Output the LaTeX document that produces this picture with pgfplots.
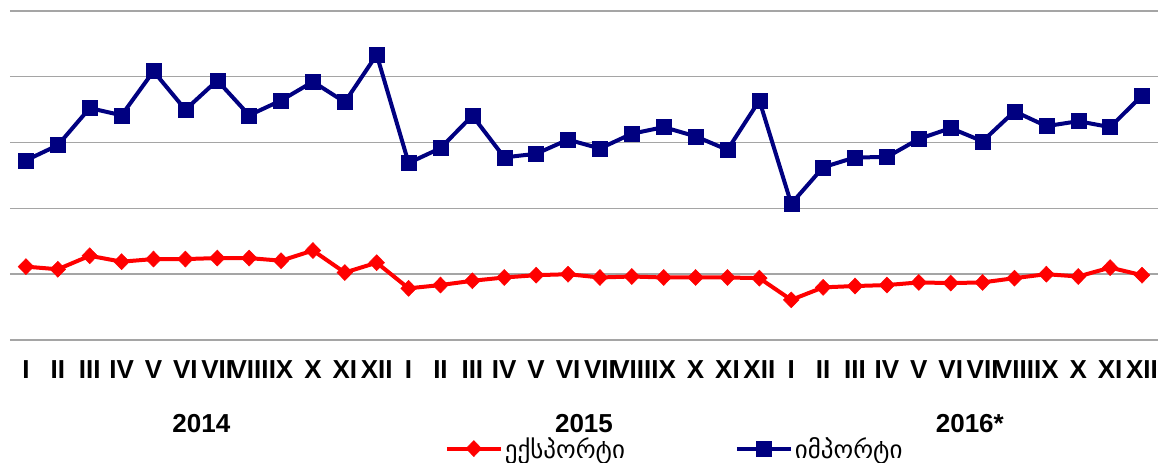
\documentclass[border=0pt]{standalone}
\usepackage{fontspec}
\setmainfont{Liberation Sans}
\newfontfamily\geo{DejaVu Sans}
\usepackage{pgfplots}
\pgfplotsset{compat=1.18}
\definecolor{navy}{RGB}{0,0,128}
\definecolor{myred}{RGB}{255,0,0}
\definecolor{gridgray}{RGB}{165,165,165}
\begin{document}
\begin{tikzpicture}
\useasboundingbox (0,0) rectangle (1168pt,463pt);
\begin{axis}[
  at={(10pt,123pt)}, anchor=south west,
  width=1148pt, height=329pt, scale only axis,
  xmin=-0.5, xmax=35.5, ymin=0, ymax=1000,
  ytick={0,200,400,600,800,1000}, yticklabels={},
  axis line style={draw=none},
  major tick length=0pt,
  ymajorgrids, grid style={gridgray, line width=1.4pt},
  xtick={0,...,35},
  xticklabels={I,II,III,IV,V,VI,VII,VIII,IX,X,XI,XII,I,II,III,IV,V,VI,VII,VIII,IX,X,XI,XII,I,II,III,IV,V,VI,VII,VIII,IX,X,XI,XII},
  xticklabel style={font=\fontsize{26}{26}\selectfont\bfseries, yshift=-17pt},
  clip=false,
  legend columns=2,
  legend style={at={(0.376,-0.330)}, anchor=west, draw=none, fill=none,
    font=\geo\fontsize{25}{25}\selectfont,
    /tikz/every even column/.append style={column sep=108pt}},
  legend image code/.code={\draw[mark repeat=2,mark phase=2,#1] plot coordinates {(0pt,0pt) (27pt,0pt) (54pt,0pt)};},
]
\addplot[myred, line width=4pt, mark=diamond*, mark size=8pt, mark options={xscale=1.3, line width=0.5pt}]
coordinates {
(0,223)(1,215)(2,256)(3,238)(4,246)(5,246)(6,249)(7,249)(8,241)(9,272)(10,205)(11,235)
(12,157)(13,167)(14,180)(15,190)(16,197)(17,200)(18,190)(19,193)(20,190)(21,190)(22,190)(23,188)
(24,122)(25,160)(26,164)(27,167)(28,175)(29,173)(30,175)(31,188)(32,200)(33,193)(34,220)(35,197)
};
\addlegendentry{ექსპორტი}
\addplot[navy, line width=4pt, mark=square*, mark size=7.5pt, mark options={line width=0.5pt}]
coordinates {
(0,546)(1,592)(2,705)(3,683)(4,817)(5,700)(6,789)(7,683)(8,728)(9,785)(10,723)(11,867)
(12,538)(13,583)(14,682)(15,555)(16,566)(17,609)(18,582)(19,627)(20,647)(21,619)(22,578)(23,728)
(24,414)(25,525)(26,555)(27,556)(28,611)(29,644)(30,604)(31,695)(32,650)(33,665)(34,647)(35,743)
};
\addlegendentry{იმპორტი}
\node[font=\fontsize{26}{26}\selectfont\bfseries] at (axis cs:5.5,-255) {2014};
\node[font=\fontsize{26}{26}\selectfont\bfseries] at (axis cs:17.5,-255) {2015};
\node[font=\fontsize{26}{26}\selectfont\bfseries] at (axis cs:29.6,-255) {2016*};
\end{axis}
\end{tikzpicture}
\end{document}
